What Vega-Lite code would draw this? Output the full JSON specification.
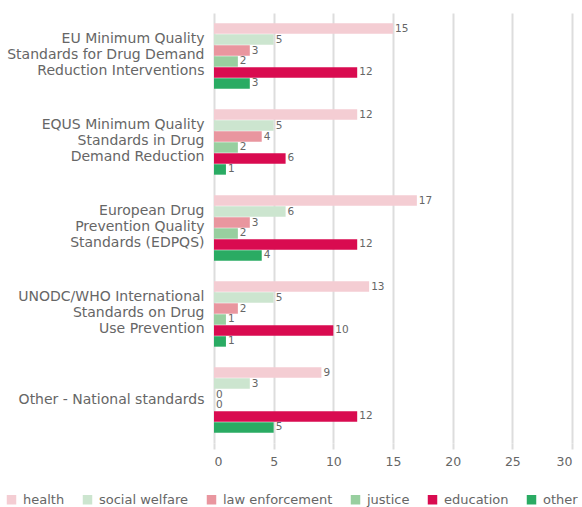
{
  "$schema": "https://vega.github.io/schema/vega-lite/v6.json",
  "width": 358,
  "height": 430,
  "padding": {"left": 5, "top": 13, "right": 5, "bottom": 5},
  "config": {"view": {"stroke": null}, "font": "DejaVu Sans"},
  "data": {"values": [
    {"standard": "EU Minimum Quality |Standards for Drug Demand |Reduction Interventions", "sector": "health", "value": 15},
    {"standard": "EU Minimum Quality |Standards for Drug Demand |Reduction Interventions", "sector": "social welfare", "value": 5},
    {"standard": "EU Minimum Quality |Standards for Drug Demand |Reduction Interventions", "sector": "law enforcement", "value": 3},
    {"standard": "EU Minimum Quality |Standards for Drug Demand |Reduction Interventions", "sector": "justice", "value": 2},
    {"standard": "EU Minimum Quality |Standards for Drug Demand |Reduction Interventions", "sector": "education", "value": 12},
    {"standard": "EU Minimum Quality |Standards for Drug Demand |Reduction Interventions", "sector": "other", "value": 3},
    {"standard": "EQUS Minimum Quality|Standards in Drug|Demand Reduction", "sector": "health", "value": 12},
    {"standard": "EQUS Minimum Quality|Standards in Drug|Demand Reduction", "sector": "social welfare", "value": 5},
    {"standard": "EQUS Minimum Quality|Standards in Drug|Demand Reduction", "sector": "law enforcement", "value": 4},
    {"standard": "EQUS Minimum Quality|Standards in Drug|Demand Reduction", "sector": "justice", "value": 2},
    {"standard": "EQUS Minimum Quality|Standards in Drug|Demand Reduction", "sector": "education", "value": 6},
    {"standard": "EQUS Minimum Quality|Standards in Drug|Demand Reduction", "sector": "other", "value": 1},
    {"standard": "European Drug |Prevention Quality |Standards (EDPQS)", "sector": "health", "value": 17},
    {"standard": "European Drug |Prevention Quality |Standards (EDPQS)", "sector": "social welfare", "value": 6},
    {"standard": "European Drug |Prevention Quality |Standards (EDPQS)", "sector": "law enforcement", "value": 3},
    {"standard": "European Drug |Prevention Quality |Standards (EDPQS)", "sector": "justice", "value": 2},
    {"standard": "European Drug |Prevention Quality |Standards (EDPQS)", "sector": "education", "value": 12},
    {"standard": "European Drug |Prevention Quality |Standards (EDPQS)", "sector": "other", "value": 4},
    {"standard": "UNODC/WHO International |Standards on Drug |Use Prevention", "sector": "health", "value": 13},
    {"standard": "UNODC/WHO International |Standards on Drug |Use Prevention", "sector": "social welfare", "value": 5},
    {"standard": "UNODC/WHO International |Standards on Drug |Use Prevention", "sector": "law enforcement", "value": 2},
    {"standard": "UNODC/WHO International |Standards on Drug |Use Prevention", "sector": "justice", "value": 1},
    {"standard": "UNODC/WHO International |Standards on Drug |Use Prevention", "sector": "education", "value": 10},
    {"standard": "UNODC/WHO International |Standards on Drug |Use Prevention", "sector": "other", "value": 1},
    {"standard": "Other - National standards", "sector": "health", "value": 9},
    {"standard": "Other - National standards", "sector": "social welfare", "value": 3},
    {"standard": "Other - National standards", "sector": "law enforcement", "value": 0},
    {"standard": "Other - National standards", "sector": "justice", "value": 0},
    {"standard": "Other - National standards", "sector": "education", "value": 12},
    {"standard": "Other - National standards", "sector": "other", "value": 5}
  ]},
  "encoding": {
    "y": {
      "field": "standard", "type": "nominal", "sort": null,
      "scale": {"paddingInner": 0.24, "paddingOuter": 0.12},
      "axis": {"title": null, "labelExpr": "split(datum.label, '|')", "ticks": false, "domain": false,
               "labelOffset": {"condition": {"test": "indexof(datum.value, '|') >= 0", "value": -17}, "value": 0},
               "labelFontSize": 14, "labelColor": "#666666", "labelPadding": 10, "labelLineHeight": 16, "labelLimit": 400}
    },
    "yOffset": {
      "field": "sector", "type": "nominal",
      "sort": ["health", "social welfare", "law enforcement", "justice", "education", "other"],
      "scale": {"paddingInner": 0.05}
    },
    "x": {
      "field": "value", "type": "quantitative",
      "scale": {"domain": [0, 30], "nice": false},
      "axis": {"title": null, "values": [0, 5, 10, 15, 20, 25, 30], "grid": true, "gridColor": "#dddddd", "gridWidth": 2,
               "domain": false, "tickColor": "#dddddd", "tickWidth": 2, "tickSize": 6,
               "labelFontSize": 12.5, "labelColor": "#666666", "labelPadding": 6}
    }
  },
  "layer": [
    {
      "mark": {"type": "bar"},
      "encoding": {
        "color": {
          "field": "sector", "type": "nominal",
          "sort": ["health", "social welfare", "law enforcement", "justice", "education", "other"],
          "scale": {"domain": ["health", "social welfare", "law enforcement", "justice", "education", "other"],
                    "range": ["#f4cdd3", "#cce5cf", "#e9969f", "#98cf9f", "#d90b50", "#2aab63"]},
          "legend": {"title": null, "orient": "none", "direction": "horizontal", "legendX": -209, "legendY": 480,
                     "symbolType": "square", "symbolSize": 90, "symbolStrokeWidth": 0, "labelFontSize": 13, "labelColor": "#666666",
                     "labelOffset": 5, "columnPadding": 16, "columns": 6}
        }
      }
    },
    {
      "mark": {"type": "text", "align": "left", "baseline": "middle", "dx": 2, "fontSize": 10.5, "color": "#666666"},
      "encoding": {"text": {"field": "value", "type": "quantitative"}}
    }
  ]
}
